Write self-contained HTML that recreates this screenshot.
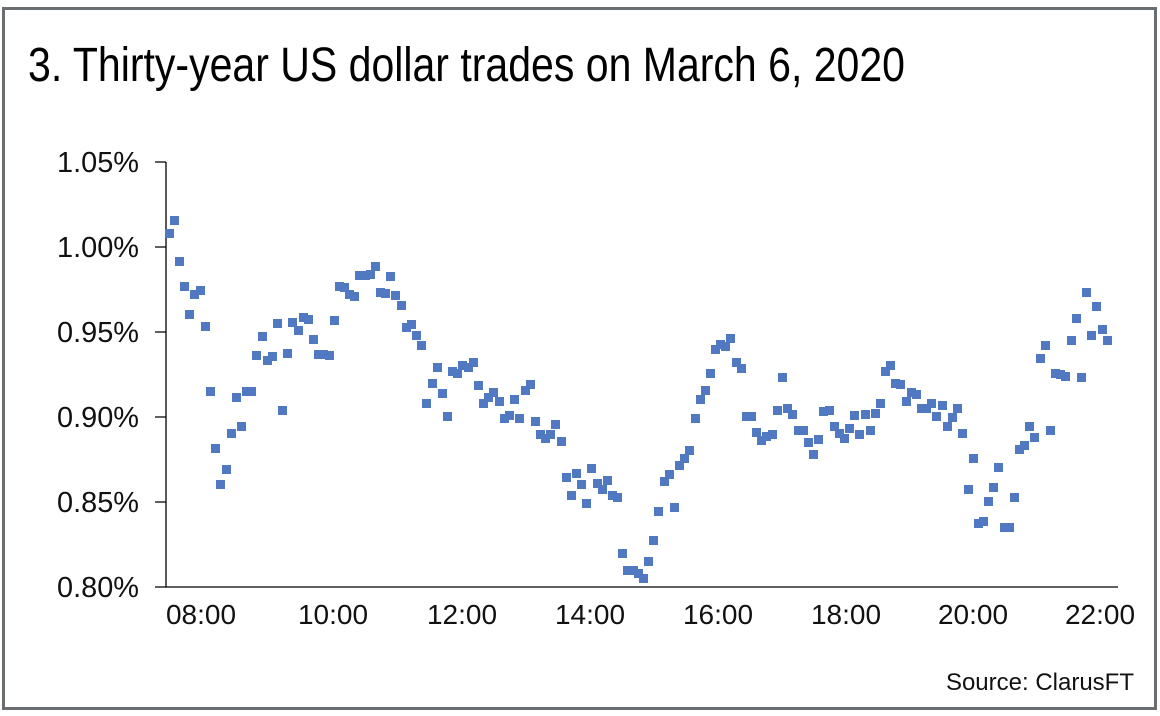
<!DOCTYPE html>
<html><head><meta charset="utf-8"><style>
html,body{margin:0;padding:0;background:#fff;}
svg{display:block;font-family:"Liberation Sans",sans-serif;}
</style></head><body>
<svg width="1160" height="716" viewBox="0 0 1160 716">
<rect x="3.5" y="8.5" width="1152" height="700" fill="#fff" stroke="#6b6e70" stroke-width="3"/>
<text x="28" y="81" font-size="48" textLength="877" lengthAdjust="spacingAndGlyphs" fill="#000">3. Thirty-year US dollar trades on March 6, 2020</text>
<g font-size="29" fill="#111" text-anchor="end">
<text x="139" y="172" textLength="82" lengthAdjust="spacingAndGlyphs">1.05%</text>
<text x="139" y="257" textLength="82" lengthAdjust="spacingAndGlyphs">1.00%</text>
<text x="139" y="342" textLength="82" lengthAdjust="spacingAndGlyphs">0.95%</text>
<text x="139" y="427" textLength="82" lengthAdjust="spacingAndGlyphs">0.90%</text>
<text x="139" y="512" textLength="82" lengthAdjust="spacingAndGlyphs">0.85%</text>
<text x="139" y="597" textLength="82" lengthAdjust="spacingAndGlyphs">0.80%</text>
</g>
<g font-size="28" fill="#111" text-anchor="middle">
<text x="201" y="624">08:00</text>
<text x="333" y="624">10:00</text>
<text x="462" y="624">12:00</text>
<text x="590" y="624">14:00</text>
<text x="718" y="624">16:00</text>
<text x="846" y="624">18:00</text>
<text x="973" y="624">20:00</text>
<text x="1100" y="624">22:00</text>
</g>
<text x="1134" y="690" font-size="24" text-anchor="end" fill="#111">Source: ClarusFT</text>
<g stroke="#000" stroke-width="1.3" fill="none">
<path d="M166 162V587H1118"/>
<path d="M155 162H166M155 247H166M155 332H166M155 417H166M155 502H166M155 587H166"/>
</g>
<path fill="#5079c1" d="M165 229h9v9h-9zM170 216h9v9h-9zM175 257h9v9h-9zM180 282h9v9h-9zM185 310h9v9h-9zM190 290h9v9h-9zM196 286h9v9h-9zM201 322h9v9h-9zM206 387h9v9h-9zM211 444h9v9h-9zM216 480h9v9h-9zM222 465h9v9h-9zM227 429h9v9h-9zM232 393h9v9h-9zM237 422h9v9h-9zM242 387h9v9h-9zM247 387h9v9h-9zM252 351h9v9h-9zM258 332h9v9h-9zM263 356h9v9h-9zM268 352h9v9h-9zM273 319h9v9h-9zM278 406h9v9h-9zM283 349h9v9h-9zM288 318h9v9h-9zM294 326h9v9h-9zM299 313h9v9h-9zM304 315h9v9h-9zM309 335h9v9h-9zM314 350h9v9h-9zM319 350h9v9h-9zM325 351h9v9h-9zM330 316h9v9h-9zM335 282h9v9h-9zM340 283h9v9h-9zM345 290h9v9h-9zM350 292h9v9h-9zM355 271h9v9h-9zM361 271h9v9h-9zM366 270h9v9h-9zM371 262h9v9h-9zM376 288h9v9h-9zM381 289h9v9h-9zM386 272h9v9h-9zM391 291h9v9h-9zM397 301h9v9h-9zM402 323h9v9h-9zM407 320h9v9h-9zM412 331h9v9h-9zM417 341h9v9h-9zM422 399h9v9h-9zM428 379h9v9h-9zM433 363h9v9h-9zM438 389h9v9h-9zM443 412h9v9h-9zM448 367h9v9h-9zM453 369h9v9h-9zM458 361h9v9h-9zM464 363h9v9h-9zM469 358h9v9h-9zM474 381h9v9h-9zM479 399h9v9h-9zM484 393h9v9h-9zM489 388h9v9h-9zM495 397h9v9h-9zM500 414h9v9h-9zM505 411h9v9h-9zM515 414h9v9h-9zM510 395h9v9h-9zM521 386h9v9h-9zM526 380h9v9h-9zM531 417h9v9h-9zM536 430h9v9h-9zM541 434h9v9h-9zM546 430h9v9h-9zM551 420h9v9h-9zM557 437h9v9h-9zM562 473h9v9h-9zM567 491h9v9h-9zM572 469h9v9h-9zM577 480h9v9h-9zM582 499h9v9h-9zM587 464h9v9h-9zM593 479h9v9h-9zM598 485h9v9h-9zM603 476h9v9h-9zM608 491h9v9h-9zM613 493h9v9h-9zM618 549h9v9h-9zM623 566h9v9h-9zM629 566h9v9h-9zM634 569h9v9h-9zM639 574h9v9h-9zM644 557h9v9h-9zM649 536h9v9h-9zM654 507h9v9h-9zM660 477h9v9h-9zM665 470h9v9h-9zM670 503h9v9h-9zM675 461h9v9h-9zM680 454h9v9h-9zM685 446h9v9h-9zM691 414h9v9h-9zM696 395h9v9h-9zM701 386h9v9h-9zM706 369h9v9h-9zM711 345h9v9h-9zM716 340h9v9h-9zM721 342h9v9h-9zM726 334h9v9h-9zM732 358h9v9h-9zM737 364h9v9h-9zM742 412h9v9h-9zM747 412h9v9h-9zM752 428h9v9h-9zM757 436h9v9h-9zM762 432h9v9h-9zM768 430h9v9h-9zM773 406h9v9h-9zM778 373h9v9h-9zM783 404h9v9h-9zM788 410h9v9h-9zM794 426h9v9h-9zM799 426h9v9h-9zM804 438h9v9h-9zM809 450h9v9h-9zM814 435h9v9h-9zM819 407h9v9h-9zM825 406h9v9h-9zM830 422h9v9h-9zM835 429h9v9h-9zM840 434h9v9h-9zM845 424h9v9h-9zM850 411h9v9h-9zM855 430h9v9h-9zM861 410h9v9h-9zM866 426h9v9h-9zM871 409h9v9h-9zM876 399h9v9h-9zM881 367h9v9h-9zM886 361h9v9h-9zM891 379h9v9h-9zM896 380h9v9h-9zM902 397h9v9h-9zM907 388h9v9h-9zM912 390h9v9h-9zM917 404h9v9h-9zM922 404h9v9h-9zM927 399h9v9h-9zM932 412h9v9h-9zM938 401h9v9h-9zM943 422h9v9h-9zM948 413h9v9h-9zM953 404h9v9h-9zM958 429h9v9h-9zM964 485h9v9h-9zM969 454h9v9h-9zM974 519h9v9h-9zM979 517h9v9h-9zM984 497h9v9h-9zM989 483h9v9h-9zM994 463h9v9h-9zM1000 523h9v9h-9zM1005 523h9v9h-9zM1010 493h9v9h-9zM1015 445h9v9h-9zM1020 441h9v9h-9zM1025 422h9v9h-9zM1030 433h9v9h-9zM1036 354h9v9h-9zM1041 341h9v9h-9zM1046 426h9v9h-9zM1051 369h9v9h-9zM1056 370h9v9h-9zM1061 372h9v9h-9zM1067 336h9v9h-9zM1072 314h9v9h-9zM1077 373h9v9h-9zM1082 288h9v9h-9zM1087 331h9v9h-9zM1092 302h9v9h-9zM1098 325h9v9h-9zM1103 336h9v9h-9z"/>
</svg>
</body></html>
